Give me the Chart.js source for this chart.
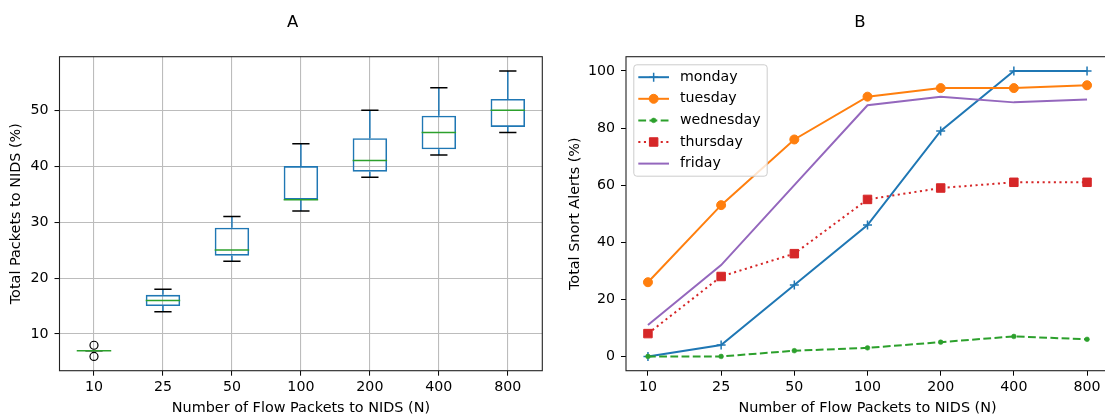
<!DOCTYPE html>
<html><head><meta charset="utf-8">
<script src="https://cdn.jsdelivr.net/npm/chart.js@4.4.0/dist/chart.umd.min.js"></script>
<style>
html,body{margin:0;padding:0;background:#fff;overflow:hidden;width:1105px;height:415px;}
#wrap{position:relative;width:1105px;height:415px;overflow:hidden;background:#fff;}
canvas{position:absolute;top:0;}
#ca{left:0;}
#cb{left:560px;}
</style></head><body>
<div id="wrap"><canvas id="ca" width="560" height="415"></canvas><canvas id="cb" width="560" height="415"></canvas></div>
<script>
// ---- data ----
const flowSizes = ['10', '25', '50', '100', '200', '400', '800'];
// Panel A: box plot statistics per flow size
const whiskerLow  = [7, 14, 23, 32, 38, 42, 46];
const quartile1   = [7, 15, 24, 34, 39, 43, 47];
const medians     = [7, 16, 25, 34, 41, 46, 50];
const quartile3   = [7, 17, 29, 40, 45, 49, 52];
const whiskerHigh = [7, 18, 31, 44, 50, 54, 57];
const outliers    = [[6, 8], [], [], [], [], [], []];
const yTicksA = [10, 20, 30, 40, 50];
// Panel B: Snort alerts per day
const monday    = [0, 4, 25, 46, 79, 100, 100];
const tuesday   = [26, 53, 76, 91, 94, 94, 95];
const wednesday = [0, 0, 2, 3, 5, 7, 6];
const thursday  = [8, 28, 36, 55, 59, 61, 61];
const friday    = [11, 32, 60, 88, 91, 89, 90];
const yTicksB = [0, 20, 40, 60, 80, 100];

Chart.defaults.font.family = "'DejaVu Sans', sans-serif";
Chart.defaults.font.size = 14.2;
Chart.defaults.color = '#000';
Chart.defaults.animation = false;

function drawMarker(ctx, style, x, y, r, color, bw) {
  ctx.save();
  ctx.fillStyle = color; ctx.strokeStyle = color; ctx.lineWidth = bw;
  ctx.beginPath();
  if (style === 'circle') { ctx.arc(x, y, r, 0, Math.PI * 2); ctx.fill(); if (bw) ctx.stroke(); }
  else if (style === 'rect') { const s = r * Math.SQRT1_2; ctx.rect(x - s, y - s, 2 * s, 2 * s); ctx.fill(); if (bw) ctx.stroke(); }
  else if (style === 'cross') { ctx.moveTo(x - r, y); ctx.lineTo(x + r, y); ctx.moveTo(x, y - r); ctx.lineTo(x, y + r); ctx.stroke(); }
  ctx.restore();
}

const framePlugin = {
  id: 'frame',
  afterDatasetsDraw(chart) {
    const {ctx, chartArea: a} = chart;
    ctx.save();
    ctx.strokeStyle = '#222'; ctx.lineWidth = 1.1;
    ctx.strokeRect(a.left, a.top, a.right - a.left, a.bottom - a.top);
    ctx.restore();
  }
};

const titlePlugin = {
  id: 'panelTitle',
  afterDraw(chart, args, opts) {
    const ctx = chart.ctx;
    ctx.save();
    ctx.font = "16.5px 'DejaVu Sans'";
    ctx.fillStyle = '#000';
    ctx.textAlign = 'center'; ctx.textBaseline = 'middle';
    ctx.fillText(opts.text, opts.x, opts.y);
    ctx.restore();
  }
};

const boxExtras = {
  id: 'boxExtras',
  afterDatasetsDraw(chart) {
    const {ctx, scales: {x, y}} = chart;
    const band = x.getPixelForValue(1) - x.getPixelForValue(0);
    ctx.save();
    ctx.lineWidth = 1.5;
    flowSizes.forEach((_, i) => {
      const cx = x.getPixelForValue(i);
      // whiskers
      ctx.strokeStyle = '#1f77b4';
      ctx.beginPath();
      ctx.moveTo(cx, y.getPixelForValue(quartile1[i])); ctx.lineTo(cx, y.getPixelForValue(whiskerLow[i]));
      ctx.moveTo(cx, y.getPixelForValue(quartile3[i])); ctx.lineTo(cx, y.getPixelForValue(whiskerHigh[i]));
      ctx.stroke();
      // caps
      ctx.strokeStyle = '#000';
      const cw = band * 0.125;
      ctx.beginPath();
      [whiskerLow[i], whiskerHigh[i]].forEach(v => {
        const py = y.getPixelForValue(v);
        ctx.moveTo(cx - cw, py); ctx.lineTo(cx + cw, py);
      });
      ctx.stroke();
      // median
      ctx.strokeStyle = '#2ca02c';
      const mw = band * 0.25;
      const my = y.getPixelForValue(medians[i]);
      ctx.beginPath(); ctx.moveTo(cx - mw, my); ctx.lineTo(cx + mw, my); ctx.stroke();
    });
    ctx.restore();
  }
};

const allA = whiskerLow.concat(whiskerHigh, outliers.flat());
const loA = Math.min(...allA), hiA = Math.max(...allA), mA = (hiA - loA) * 0.05;

new Chart(document.getElementById('ca'), {
  type: 'bar',
  data: {
    labels: flowSizes,
    datasets: [
      {
        type: 'bar',
        data: flowSizes.map((_, i) => [quartile1[i], quartile3[i]]),
        backgroundColor: 'rgba(0,0,0,0)',
        borderColor: '#1f77b4',
        borderWidth: 1.6,
        borderSkipped: false,
        barPercentage: 0.5,
        categoryPercentage: 1
      },
      {
        type: 'line',
        showLine: false,
        data: outliers.flatMap((arr, i) => arr.map(v => ({x: flowSizes[i], y: v}))),
        pointStyle: 'circle',
        pointRadius: 4,
        pointBackgroundColor: 'rgba(0,0,0,0)',
        pointBorderColor: '#000',
        pointBorderWidth: 1.2
      }
    ]
  },
  options: {
    responsive: false,
    layout: {padding: {left: 0, right: 17.7, top: 56.7, bottom: 0}},
    plugins: {legend: {display: false}, tooltip: {enabled: false},
      panelTitle: {text: 'A', x: 292.7, y: 22.7}},
    scales: {
      x: {
        type: 'category', offset: true,
        grid: {display: true, offset: false, color: '#bcbcbc', lineWidth: 1.1, drawTicks: true, tickLength: 5, tickColor: '#000', tickWidth: 1},
        border: {display: false},
        ticks: {padding: 3, color: '#000', maxRotation: 0},
        title: {display: true, text: 'Number of Flow Packets to NIDS (N)', color: '#000', font: {size: 14.4, lineHeight: 1}, padding: {top: 0, bottom: 0}},
        afterFit: s => { s.height = 44.3; }
      },
      y: {
        type: 'linear', min: loA - mA, max: hiA + mA,
        afterBuildTicks: ax => { ax.ticks = yTicksA.map(v => ({value: v})); },
        grid: {display: true, color: '#bcbcbc', lineWidth: 1.1, drawTicks: true, tickLength: 5, tickColor: '#000', tickWidth: 1},
        border: {display: false},
        ticks: {padding: 6, color: '#000'},
        title: {display: true, text: 'Total Packets to NIDS (%)', color: '#000', font: {size: 14.4, lineHeight: 1}, padding: {top: 9, bottom: 0}},
        afterFit: s => { s.width = 59.5; }
      }
    }
  },
  plugins: [boxExtras, framePlugin, titlePlugin]
});

// ---- Panel B ----
const seriesB = [
  {label: 'monday', values: monday, color: '#1f77b4', dash: [], style: 'cross', r: 4.5, bw: 1.5},
  {label: 'tuesday', values: tuesday, color: '#ff7f0e', dash: [], style: 'circle', r: 4.5, bw: 1},
  {label: 'wednesday', values: wednesday, color: '#2ca02c', dash: [7.8, 3.4], style: 'circle', r: 2.4, bw: 0.5},
  {label: 'thursday', values: thursday, color: '#d62728', dash: [2.1, 3.5], style: 'rect', r: 6, bw: 1},
  {label: 'friday', values: friday, color: '#9467bd', dash: [], style: false, r: 0, bw: 0}
];

const legendPlugin = {
  id: 'customLegend',
  afterDraw(chart) {
    const {ctx, chartArea: a} = chart;
    const bx = a.left + 7.3, by = a.top + 7.6, bwid = 133.4, bh = 111.4;
    ctx.save();
    ctx.beginPath();
    if (ctx.roundRect) ctx.roundRect(bx + 0.5, by + 0.5, bwid, bh, 3); else ctx.rect(bx + 0.5, by + 0.5, bwid, bh);
    ctx.fillStyle = 'rgba(255,255,255,0.8)'; ctx.fill();
    ctx.strokeStyle = '#cccccc'; ctx.lineWidth = 1; ctx.stroke();
    chart.data.datasets.forEach((ds, i) => {
      const ry = by + 12.9 + i * 21.6;
      const x0 = bx + 5, x1 = bx + 35.7;
      ctx.save();
      ctx.strokeStyle = ds.borderColor; ctx.lineWidth = ds.borderWidth;
      ctx.setLineDash(ds.borderDash || []);
      ctx.beginPath(); ctx.moveTo(x0, ry); ctx.lineTo(x1, ry); ctx.stroke();
      ctx.restore();
      if (ds.pointStyle && ds.pointRadius > 0) drawMarker(ctx, ds.pointStyle, (x0 + x1) / 2, ry, ds.pointRadius, ds.borderColor, ds.pointBorderWidth);
      ctx.fillStyle = '#000';
      ctx.font = "14.2px 'DejaVu Sans'";
      ctx.textAlign = 'left'; ctx.textBaseline = 'middle';
      ctx.fillText(ds.label, bx + 46.7, ry);
    });
    ctx.restore();
  }
};

new Chart(document.getElementById('cb'), {
  type: 'line',
  data: {
    datasets: seriesB.map((s, i) => ({
      label: s.label,
      data: s.values.map((v, j) => ({x: j, y: v})),
      borderColor: s.color,
      backgroundColor: s.color,
      borderWidth: 2,
      borderDash: s.dash,
      fill: false,
      tension: 0,
      pointStyle: s.style,
      pointRadius: s.r,
      pointBackgroundColor: s.color,
      pointBorderColor: s.color,
      pointBorderWidth: s.bw,
      order: seriesB.length - i
    }))
  },
  options: {
    responsive: false,
    layout: {padding: {left: 0, right: 11, top: 56.7, bottom: 0}},
    plugins: {legend: {display: false}, tooltip: {enabled: false},
      panelTitle: {text: 'B', x: 300, y: 22.7}},
    scales: {
      x: {
        type: 'linear', min: -0.3, max: 6.3,
        afterBuildTicks: ax => { ax.ticks = flowSizes.map((_, i) => ({value: i})); },
        grid: {display: true, drawOnChartArea: false, drawTicks: true, tickLength: 5, tickColor: '#000', tickWidth: 1},
        border: {display: false},
        ticks: {padding: 3, color: '#000', maxRotation: 0, callback: v => flowSizes[v]},
        title: {display: true, text: 'Number of Flow Packets to NIDS (N)', color: '#000', font: {size: 14.4, lineHeight: 1}, padding: {top: 0, bottom: 0}},
        afterFit: s => { s.height = 44.3; }
      },
      y: {
        type: 'linear', min: -5, max: 105,
        afterBuildTicks: ax => { ax.ticks = yTicksB.map(v => ({value: v})); },
        grid: {display: true, drawOnChartArea: false, drawTicks: true, tickLength: 5, tickColor: '#000', tickWidth: 1},
        border: {display: false},
        ticks: {padding: 6, color: '#000'},
        title: {display: true, text: 'Total Snort Alerts (%)', color: '#000', font: {size: 14.4, lineHeight: 1}, padding: {top: 7.6, bottom: 0}},
        afterFit: s => { s.width = 66; }
      }
    }
  },
  plugins: [framePlugin, legendPlugin, titlePlugin]
});
</script>
</body></html>
